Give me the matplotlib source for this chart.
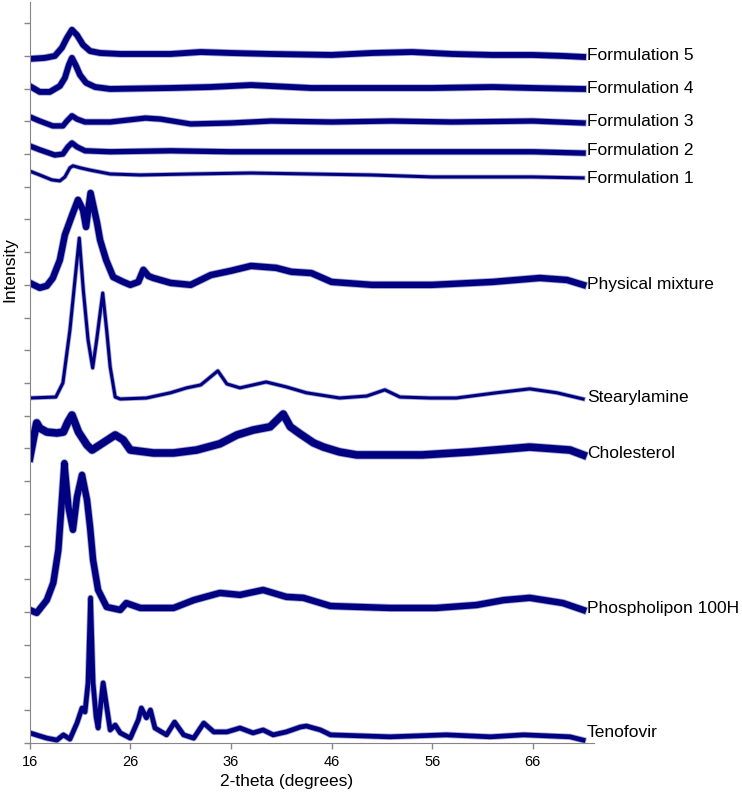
import matplotlib.pyplot as plt

plt.rcParams['font.family'] = ['Liberation Sans', 'DejaVu Sans']

# 2-theta (degrees) and stacked intensity (axis units, one tick = 1)
f5_x = [16.0, 17.5, 18.5, 19.2, 19.7, 20.2, 20.7, 21.3, 22.0, 23.0, 25, 30, 33, 36, 40, 46, 50, 54, 58, 62, 66, 69, 71]
f5_y = [20.91, 20.94, 21.00, 21.25, 21.55, 21.80, 21.64, 21.34, 21.15, 21.09, 21.06, 21.06, 21.12, 21.09, 21.06, 21.03, 21.09, 21.12, 21.06, 21.03, 21.03, 21.00, 20.97]

f4_x = [16.0, 17.0, 18.0, 19.0, 19.5, 19.9, 20.2, 20.6, 21.0, 21.6, 22.5, 24, 30, 34, 38, 40, 44, 50, 56, 62, 66, 71]
f4_y = [20.08, 19.90, 19.90, 20.08, 20.33, 20.73, 20.94, 20.70, 20.42, 20.18, 20.05, 19.99, 20.02, 20.05, 20.11, 20.08, 20.02, 20.02, 20.02, 20.05, 20.02, 19.99]

f3_x = [16.0, 17.0, 18.3, 19.3, 19.7, 20.2, 20.7, 21.5, 24, 27.5, 29, 32, 36, 40, 46, 52, 58, 66, 71]
f3_y = [19.14, 19.01, 18.86, 18.86, 19.01, 19.17, 19.07, 18.98, 18.98, 19.10, 19.07, 18.92, 18.95, 19.01, 18.98, 19.01, 18.98, 19.01, 18.95]

f2_x = [16.0, 17.0, 18.5, 19.3, 19.8, 20.2, 20.7, 21.5, 24, 30, 36, 44, 52, 60, 66, 71]
f2_y = [18.25, 18.13, 17.97, 18.00, 18.22, 18.34, 18.22, 18.10, 18.07, 18.10, 18.07, 18.07, 18.07, 18.07, 18.07, 18.03]

f1_x = [16.0, 17.0, 18.2, 19.0, 19.5, 20.0, 20.3, 21.0, 22.0, 24, 27, 32, 38, 44, 50, 56, 62, 66, 71]
f1_y = [17.48, 17.36, 17.21, 17.18, 17.30, 17.58, 17.64, 17.58, 17.51, 17.39, 17.36, 17.39, 17.42, 17.39, 17.36, 17.30, 17.30, 17.30, 17.27]

pm_x = [16.0, 17.0, 17.7, 18.3, 19.0, 19.5, 20.3, 20.8, 21.3, 21.6, 22.05, 22.7, 23.0, 23.6, 24.3, 25.3, 26.0, 26.8, 27.3, 27.8, 28.3,
        30, 32, 34, 36, 38, 40.5, 42, 44, 46, 50, 56, 62, 66.7, 69.4, 71]
pm_y = [14.06, 13.91, 13.97, 14.21, 14.76, 15.53, 16.20, 16.60, 16.29, 15.77, 16.81, 15.89, 15.37, 14.76, 14.24, 14.09, 14.00, 14.09, 14.46, 14.27, 14.21,
        14.06, 14.00, 14.30, 14.43, 14.58, 14.52, 14.40, 14.36, 14.09, 14.00, 14.00, 14.09, 14.21, 14.15, 14.00]

sa_x = [16.0, 18.6, 19.3, 20.0, 20.5, 20.93, 21.33, 21.8, 22.26, 22.66, 23.26, 23.65, 24.0, 24.5, 25.0, 27.6, 30, 31.6, 33.0, 33.6, 34.7,
        35.6, 36.9, 39.5, 41.5, 43.5, 46.8, 49.5, 51.3, 52.8, 55.8, 58.4, 62.4, 65.7, 68.4, 71]
sa_y = [10.54, 10.57, 11.00, 12.62, 14.15, 15.43, 13.84, 12.32, 11.46, 12.32, 13.75, 12.62, 11.49, 10.57, 10.51, 10.54, 10.70, 10.85, 10.94, 11.09, 11.37,
        10.97, 10.85, 11.03, 10.88, 10.70, 10.54, 10.60, 10.79, 10.57, 10.54, 10.54, 10.70, 10.82, 10.70, 10.51]

ch_x = [16.0, 16.4, 16.7, 17.0, 17.7, 18.7, 19.35, 19.8, 20.2, 20.85, 21.7, 22.2, 23.3, 24.5, 25.3, 26.0, 28.3, 30.3, 32.6, 34.9, 36.6,
        38.2, 39.9, 40.6, 41.2, 41.9, 42.9, 44.2, 45.2, 46.8, 48.5, 55, 59.8, 65.7, 69.7, 71]
ch_y = [8.71, 9.35, 9.78, 9.62, 9.50, 9.47, 9.50, 9.81, 10.02, 9.50, 9.10, 8.95, 9.17, 9.41, 9.26, 8.95, 8.86, 8.86, 8.95, 9.14, 9.41,
        9.56, 9.66, 9.87, 10.05, 9.66, 9.44, 9.17, 9.04, 8.89, 8.80, 8.80, 8.89, 9.04, 8.95, 8.80]

pl_x = [16.0, 16.7, 17.7, 18.35, 18.85, 19.2, 19.45, 19.85, 20.3, 20.7, 21.2, 21.7, 22.0, 22.3, 22.8, 23.65, 25.0, 25.6, 27.0, 30.3,
        32.3, 34.9, 36.9, 39.2, 41.5, 43.2, 45.9, 51.8, 56.4, 60.4, 63.1, 65.7, 69.0, 71.0]
pl_y = [4.06, 3.97, 4.36, 4.89, 5.89, 7.42, 8.55, 7.21, 6.51, 7.51, 8.19, 7.42, 6.60, 5.59, 4.67, 4.15, 4.06, 4.27, 4.12, 4.12,
        4.36, 4.58, 4.52, 4.67, 4.46, 4.43, 4.18, 4.12, 4.12, 4.21, 4.36, 4.43, 4.27, 4.06]

tf_x = [16.0, 17.7, 18.7, 19.35, 20.0, 20.7, 21.2, 21.5, 21.8, 22.05, 22.3, 22.6, 22.8, 23.3, 23.7, 24.0, 24.5, 25.0, 26.0, 26.8, 27.1,
        27.6, 28.0, 28.45, 29.6, 30.4, 31.3, 32.3, 33.3, 34.3, 35.6, 36.9, 38.2, 39.2, 40.2, 41.5, 42.9, 43.5, 44.9, 45.9,
        51.8, 57.4, 61.8, 65.1, 69.7, 71]
tf_y = [0.30, 0.14, 0.08, 0.24, 0.11, 0.60, 1.06, 0.94, 1.83, 4.43, 1.83, 0.79, 0.45, 1.83, 1.00, 0.39, 0.54, 0.30, 0.14, 0.70, 1.06,
        0.76, 1.00, 0.45, 0.24, 0.63, 0.24, 0.14, 0.60, 0.33, 0.33, 0.45, 0.30, 0.39, 0.24, 0.33, 0.48, 0.51, 0.39, 0.24,
        0.18, 0.24, 0.18, 0.24, 0.18, 0.08]

names = ['Formulation 5', 'Formulation 4', 'Formulation 3', 'Formulation 2', 'Formulation 1',
         'Physical mixture', 'Stearylamine', 'Cholesterol', 'Phospholipon 100H', 'Tenofovir']
xs = [f5_x, f4_x, f3_x, f2_x, f1_x, pm_x, sa_x, ch_x, pl_x, tf_x]
ys = [f5_y, f4_y, f3_y, f2_y, f1_y, pm_y, sa_y, ch_y, pl_y, tf_y]

# drawing style: band thickness of each noisy trace, label heights
widths = [4.2, 4.2, 3.8, 3.8, 2.2, 4.6, 2.2, 5.4, 4.6, 3.4]
label_y = [21.0, 20.0, 19.0, 18.1, 17.25, 14.0, 10.55, 8.85, 4.1, 0.3]

navy = '#000080'
grey = '#868686'

fig = plt.figure(figsize=(7.42, 7.94), dpi=100)
ax = fig.add_axes([0.040, 0.0646, 0.761, 0.9329])

for x, y, w, name, ly in zip(xs, ys, widths, names, label_y):
    ax.plot(x, y, color='#4a4f9e', lw=w + 1.2, alpha=0.5, solid_joinstyle='round')
    ax.plot(x, y, color=navy, lw=w, solid_joinstyle='round')
    ax.text(71.4, ly, name, va='center', ha='left', fontsize=12.5, clip_on=False)

ax.set_xlim(16, 72.12)
ax.set_ylim(0, 22.65)
ax.set_xticks([16, 26, 36, 46, 56, 66])
ax.set_yticks(range(0, 23))
ax.set_yticklabels([])
ax.tick_params(axis='both', direction='out', length=4, color=grey, width=1)
ax.tick_params(axis='x', labelsize=10.5, pad=5)
for s in ['top', 'right']:
    ax.spines[s].set_visible(False)
for s in ['left', 'bottom']:
    ax.spines[s].set_color(grey)

fig.text(10 / 742, 1 - 269.5 / 794, 'Intensity', rotation=90, va='center', ha='center', fontsize=12.5)
fig.text(220 / 742, 1 - 781.7 / 794, '2-theta (degrees)', va='center', ha='left', fontsize=12.5)

fig.savefig('out.png', dpi=100)
